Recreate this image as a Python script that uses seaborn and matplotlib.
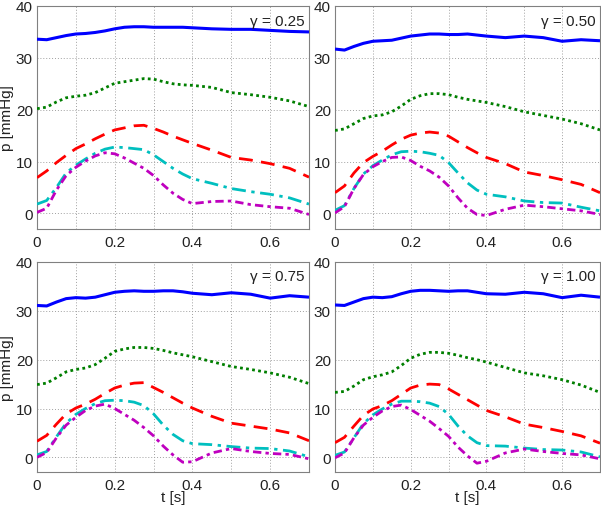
import numpy as np
import pandas as pd
import matplotlib
matplotlib.use("Agg")
import matplotlib.pyplot as plt
import seaborn as sns

# ---------------- data ----------------
t = [0, .025, .05, .075, .1, .125, .15, .175, .2, .225, .25, .275, .3, .325,
     .35, .375, .4, .45, .5, .55, .6, .65, .7]

gammas = ["0.25", "0.50", "0.75", "1.00"]

blue_025 = [33.6, 33.5, 33.9, 34.3, 34.6, 34.7, 34.9, 35.2, 35.6, 35.9, 36.0, 36.0, 35.9, 35.9, 35.9, 35.9, 35.8, 35.6, 35.5, 35.5, 35.3, 35.1, 35.0]
green_025 = [20.2, 20.5, 21.5, 22.3, 22.6, 22.8, 23.3, 24.2, 25.1, 25.4, 25.7, 26.0, 25.9, 25.4, 25.0, 24.8, 24.7, 24.3, 23.3, 22.9, 22.4, 21.7, 20.6]
red_025 = [6.9, 8.2, 9.8, 11.2, 12.5, 13.4, 14.4, 15.3, 16.1, 16.5, 16.9, 17.0, 16.4, 15.7, 14.9, 14.2, 13.5, 12.2, 10.8, 10.3, 9.6, 8.7, 7.0]
cyan_025 = [1.8, 2.5, 5.0, 7.8, 9.3, 10.5, 11.6, 12.4, 12.8, 12.7, 12.5, 12.3, 11.3, 10.0, 8.7, 7.6, 6.7, 5.8, 4.8, 4.2, 3.7, 3.0, 1.8]
magenta_025 = [0.2, 1.0, 4.5, 7.3, 8.9, 10.1, 11.1, 11.7, 11.5, 10.7, 9.7, 8.7, 7.3, 5.5, 3.9, 2.7, 1.9, 2.3, 2.4, 1.7, 1.3, 1.0, -0.2]

blue_050 = [31.7, 31.5, 32.2, 32.8, 33.2, 33.3, 33.4, 33.8, 34.2, 34.4, 34.6, 34.6, 34.5, 34.5, 34.6, 34.4, 34.2, 33.9, 34.2, 33.9, 33.2, 33.5, 33.3]
green_050 = [16.0, 16.3, 17.3, 18.3, 18.8, 19.0, 19.6, 20.7, 22.0, 22.7, 23.1, 23.1, 22.9, 22.4, 22.0, 21.7, 21.4, 20.6, 19.6, 18.9, 18.2, 17.3, 16.1]
red_050 = [4.0, 5.3, 7.8, 9.8, 11.0, 12.0, 13.2, 14.3, 15.1, 15.5, 15.7, 15.5, 14.9, 13.8, 12.7, 11.7, 10.8, 9.6, 8.0, 7.3, 6.5, 5.6, 4.0]
cyan_050 = [0.6, 1.5, 4.8, 7.6, 9.2, 10.3, 11.3, 11.9, 12.0, 11.9, 11.6, 11.2, 9.8, 7.8, 5.9, 4.5, 3.7, 3.2, 2.4, 2.1, 2.0, 1.2, 0.5]
magenta_050 = [0.1, 1.3, 4.8, 7.5, 9.0, 10.0, 10.8, 10.9, 10.2, 9.1, 8.2, 7.0, 5.3, 3.0, 1.0, -0.2, -0.4, 0.8, 1.6, 1.3, 0.9, 0.5, -0.2]

blue_075 = [31.1, 31.0, 31.8, 32.5, 32.7, 32.6, 32.8, 33.3, 33.8, 34.0, 34.1, 34.0, 34.0, 34.1, 34.1, 33.9, 33.6, 33.3, 33.7, 33.4, 32.6, 33.1, 32.8]
green_075 = [14.9, 15.2, 16.3, 17.5, 18.0, 18.3, 19.0, 20.3, 21.7, 22.2, 22.5, 22.5, 22.3, 21.9, 21.4, 21.0, 20.6, 19.6, 18.6, 18.0, 17.3, 16.4, 15.1]
red_075 = [3.3, 4.5, 6.8, 8.9, 10.1, 10.9, 11.9, 13.1, 14.2, 14.8, 15.2, 15.3, 14.3, 13.3, 12.2, 11.1, 10.1, 8.4, 7.0, 6.4, 5.8, 5.0, 3.4]
cyan_075 = [0.5, 1.2, 4.2, 7.0, 8.8, 10.0, 11.0, 11.6, 11.7, 11.6, 11.3, 10.6, 8.9, 6.6, 4.7, 3.4, 2.8, 2.6, 2.2, 1.9, 1.8, 1.3, 0.1]
magenta_075 = [0.0, 1.0, 4.0, 6.6, 8.2, 9.6, 10.5, 10.9, 10.0, 8.8, 7.6, 6.1, 4.4, 2.3, 0.5, -1.0, -0.9, 0.9, 1.8, 1.2, 0.8, 0.6, -0.3]

blue_100 = [31.2, 31.1, 31.8, 32.5, 32.8, 32.7, 32.9, 33.5, 34.0, 34.2, 34.2, 34.1, 34.0, 34.1, 34.1, 33.8, 33.5, 33.4, 33.8, 33.5, 32.7, 33.2, 32.8]
green_100 = [13.3, 13.5, 14.6, 15.9, 16.5, 16.9, 17.5, 18.8, 20.3, 21.1, 21.5, 21.5, 21.3, 20.9, 20.4, 20.0, 19.5, 18.4, 17.3, 16.7, 15.9, 14.8, 13.3]
red_100 = [3.0, 4.1, 6.4, 8.6, 9.9, 10.6, 11.6, 12.9, 14.2, 14.8, 15.0, 14.9, 14.0, 12.9, 11.8, 10.7, 9.6, 8.3, 6.8, 6.1, 5.3, 4.4, 2.9]
cyan_100 = [0.4, 1.1, 4.0, 6.9, 8.7, 9.9, 10.9, 11.5, 11.5, 11.4, 11.1, 10.4, 8.8, 6.4, 4.4, 3.0, 2.4, 2.3, 1.9, 1.6, 1.5, 1.1, 0.1]
magenta_100 = [-0.1, 0.9, 4.0, 6.6, 8.2, 9.5, 10.4, 10.7, 9.8, 8.6, 7.4, 5.9, 4.3, 2.1, 0.3, -1.2, -0.8, 0.9, 1.7, 1.2, 0.8, 0.5, -0.3]

panels = [
    [blue_025, green_025, red_025, cyan_025, magenta_025],
    [blue_050, green_050, red_050, cyan_050, magenta_050],
    [blue_075, green_075, red_075, cyan_075, magenta_075],
    [blue_100, green_100, red_100, cyan_100, magenta_100],
]

xticks = [0, 0.1, 0.2, 0.3, 0.4, 0.5, 0.6, 0.7]
xticklabels = ["0", "", "0.2", "", "0.4", "", "0.6", ""]
yticks = [0, 10, 20, 30, 40]

# ---------------- styling ----------------
sns.set_style("white")
plt.rcParams["font.family"] = ["Liberation Sans", "DejaVu Sans"]

colors = ["#0000ff", "#007f00", "#ff0000", "#00bfbf", "#bf00bf"]
styles = [(0, ()), (0, (1, 1.2)), (0, (5, 3)), (0, (5, 2, 1.2, 2)), (0, (3, 1.5, 1.2, 1.5))]
widths = [2.2, 2.0, 2.0, 2.0, 2.0]

fig = plt.figure(figsize=(6.01, 5.06), dpi=100)
positions = [
    [37 / 601, (506 - 230) / 506, 272 / 601, 223 / 506],
    [335 / 601, (506 - 230) / 506, 265 / 601, 223 / 506],
    [37 / 601, (506 - 473) / 506, 272 / 601, 210 / 506],
    [335 / 601, (506 - 473) / 506, 265 / 601, 210 / 506],
]

for i, (pos, series) in enumerate(zip(positions, panels)):
    ax = fig.add_axes(pos)
    for k, ys in enumerate(series):
        df = pd.DataFrame({"t": t, "p": ys})
        sns.lineplot(data=df, x="t", y="p", ax=ax, color=colors[k],
                     linewidth=widths[k], zorder=3)
        ax.lines[-1].set_linestyle(styles[k])
        ax.lines[-1].set_dash_capstyle("butt")
    ax.set_xlim(0, 0.7)
    ax.set_ylim(-3, 40)
    ax.set_xticks(xticks)
    ax.set_xticklabels(xticklabels)
    ax.set_yticks(yticks)
    ax.grid(True, color="#a0a0a0", linestyle=(0, (1, 2)), linewidth=0.7)
    ax.tick_params(direction="in", length=3, color="#808080", labelsize=11,
                   labelcolor="#222222")
    ax.tick_params(axis="y", pad=3)
    ax.tick_params(axis="x", pad=4)
    for sp in ax.spines.values():
        sp.set_color("#808080")
        sp.set_linewidth(0.8)
    ax.text(0.985, 0.965, "\u03b3 = " + gammas[i], transform=ax.transAxes,
            ha="right", va="top", fontsize=11, color="#222222")
    if i in (0, 2):
        ax.set_ylabel("p [mmHg]", fontsize=11, color="#222222", labelpad=1)
    else:
        ax.set_ylabel("")
    if i in (2, 3):
        ax.set_xlabel("t [s]", fontsize=11, color="#222222", va="top")
        ax.xaxis.set_label_coords(0.5, -0.088)
    else:
        ax.set_xlabel("")

fig.savefig("out.png", dpi=100)
